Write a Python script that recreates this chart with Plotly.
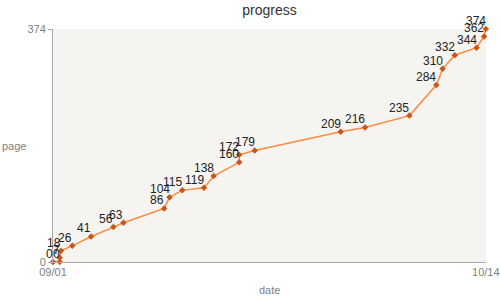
import plotly.graph_objects as go
import pandas as pd

# data
dates = [
    "2023-09-01 00:00", "2023-09-01 16:00", "2023-09-01 16:00", "2023-09-01 19:00",
    "2023-09-02 22:00", "2023-09-04 19:00", "2023-09-07 00:00", "2023-09-08 00:00",
    "2023-09-12 01:00", "2023-09-12 14:00", "2023-09-13 20:00", "2023-09-16 00:00",
    "2023-09-16 23:00", "2023-09-19 12:00", "2023-09-19 12:00", "2023-09-21 01:00",
    "2023-09-29 14:00", "2023-10-02 00:00", "2023-10-06 10:00", "2023-10-09 02:00",
    "2023-10-09 17:00", "2023-10-10 22:00", "2023-10-13 02:00", "2023-10-13 20:00",
    "2023-10-14 00:00",
]
pages = [0, 0, 7, 18, 26, 41, 56, 63, 86, 104, 115, 119, 138, 160, 172, 179,
         209, 216, 235, 284, 310, 332, 344, 362, 374]
x_ticks = ["2023-09-01", "2023-10-14"]
x_ticklabels = ["09/01", "10/14"]
y_ticks = [0, 374]

xs = pd.to_datetime(dates)
FONT = "Liberation Sans, Arial, sans-serif"

fig = go.Figure()
fig.add_trace(go.Scatter(
    x=xs, y=pages,
    mode="lines+markers",
    line=dict(color="#fb8b3e", width=1.5),
    marker=dict(symbol="diamond", size=5, color="#c9561b"),
    cliponaxis=False,
    showlegend=False,
))

annotations = [
    dict(x=x, y=p, text=str(p), xref="x", yref="y", showarrow=False,
         xanchor="right", yanchor="bottom", xshift=2, yshift=-1,
         font=dict(family=FONT, size=12, color="#222"))
    for x, p in zip(xs, pages)
]
annotations += [
    dict(text="date", xref="paper", yref="paper", x=0.5, y=-0.12, yanchor="middle",
         showarrow=False, font=dict(size=11, color="#808080")),
    dict(text="page", xref="paper", x=-0.09, xanchor="center", yref="paper", y=0.5,
         showarrow=False, font=dict(size=11, color="#808080")),
]

fig.update_layout(
    width=500, height=300,
    margin=dict(l=53, r=14, t=29, b=38, autoexpand=False),
    paper_bgcolor="white",
    plot_bgcolor="#f5f4f0",
    font=dict(family=FONT, size=11, color="#808080"),
    title=dict(text="progress", x=0.539, xanchor="center", y=0.965, yanchor="middle",
               font=dict(size=14, color="#333")),
    xaxis=dict(
        range=["2023-09-01 00:00", "2023-10-14 00:30"], tickvals=x_ticks, ticktext=x_ticklabels,
        showgrid=False, zeroline=False, showline=True, linecolor="#aaa", linewidth=1,
        ticks="", tickfont=dict(size=11, color="#808080"), ticklabeloverflow="allow",
        automargin=False,
    ),
    yaxis=dict(
        range=[0, 374], tickvals=y_ticks, showgrid=False, zeroline=False,
        showline=True, linecolor="#aaa", linewidth=1, automargin=False,
        ticks="outside", ticklen=4, tickcolor="#aaa", tickfont=dict(size=11, color="#808080"),
    ),
    annotations=annotations,
)
fig.write_html("out.html")
